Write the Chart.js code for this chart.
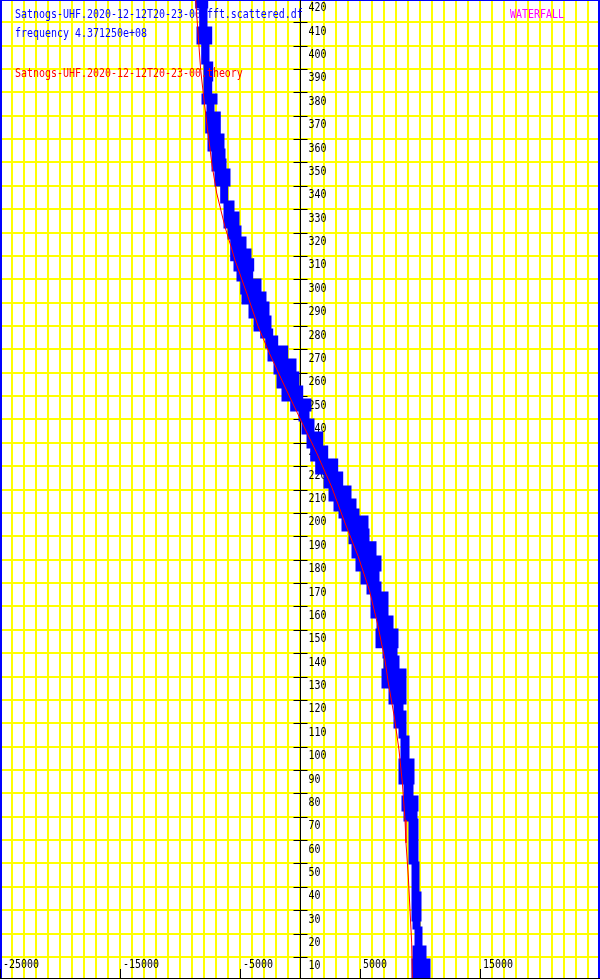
<!DOCTYPE html>
<html>
<head>
<meta charset="utf-8">
<script src="https://cdn.jsdelivr.net/npm/chart.js@4.4.1/dist/chart.umd.min.js"></script>
<style>
  html, body { margin: 0; padding: 0; background: #fff; }
  canvas { display: block; }
</style>
</head>
<body>
<canvas id="waterfall" width="600" height="980"></canvas>
<script>
// подписи
const seriesLabel = "Satnogs-UHF.2020-12-12T20-23-00.fft.scattered.df";
const freqLabel = "frequency 4.371250e+08";
const theoryLabel = "Satnogs-UHF.2020-12-12T20-23-00.theory";
const modeLabel = "WATERFALL";

// деления осей
const xTickLabels = [-25000, -15000, -5000, 5000, 15000];
const yTickLabels = [10, 20, 30, 40, 50, 60, 70, 80, 90, 100, 110, 120, 130, 140, 150, 160, 170, 180, 190, 200,
  210, 220, 230, 240, 250, 260, 270, 280, 290, 300, 310, 320, 330, 340, 350, 360, 370, 380, 390, 400, 410, 420];

// полоса измерений (fft.scattered): границы по времени и левый/правый край по частоте
const bandY = [419.5, 416.5, 407.5, 401.1, 392.5, 385.3, 378.9, 375.4, 371.1, 363.0, 361.7, 355.3, 351.0, 346.8,
  340.3, 333.1, 328.4, 322.4, 317.7, 312.5, 308.3, 304.0, 299.7, 294.1, 289.8, 283.9, 278.3, 275.3, 271.0, 265.5,
  259.9, 253.9, 248.3, 244.1, 239.8, 234.2, 228.2, 222.7, 217.1, 211.1, 205.5, 201.3, 198.3, 192.7, 187.2, 181.2,
  175.6, 170.0, 165.8, 155.5, 149.9, 142.7, 138.4, 132.8, 125.5, 118.7, 114.8, 108.4, 104.1, 94.3, 84.4, 78.5,
  72.9, 68.6, 50.2, 37.4, 25.8, 22.4, 14.3, 8.7, 1.0];
const bandLeft = [-8608, -8275, -8500, -8108, -7917, -7917, -8083, -7667, -7775, -7500, -7583, -7250, -7250, -7000,
  -6525, -6250, -6250, -5917, -5692, -5692, -5417, -5167, -4858, -4750, -4167, -3750, -3192, -2775, -2583, -2083,
  -1833, -1417, -692, 0, 250, 667, 975, 1392, 2083, 2500, 2917, 3333, 3583, 4167, 4417, 4750,
  5167, 5667, 6000, 6500, 6417, 7000, 7083, 6917, 7500, 7917, 7917, 8333, 8500, 8333, 8750, 8583,
  8750, 9167, 9417, 9417, 9500, 9667, 9500, 9417, 9417];
const bandRight = [-7775, -7833, -7442, -7667, -7358, -7442, -7000, -7250, -6725, -6833, -6417, -6333, -6250, -5917,
  -6108, -5583, -5167, -5000, -4583, -4167, -3942, -4025, -3333, -2917, -2667, -2500, -2358, -1942, -1108, -417,
  -167, 142, 833, 667, 1083, 1808, 2225, 3058, 3475, 4167, 4583, 4833, 5583, 5667, 6250, 6667,
  6500, 6667, 7250, 7667, 8083, 8000, 8167, 8750, 8750, 8500, 8750, 8750, 9000, 9417, 9333, 9750,
  9667, 9750, 9833, 10000, 9917, 10083, 10417, 10750, 10750];

// теоретическая кривая (theory)
const theoryY = [419.5, 405.4, 389.5, 376.7, 362.6, 348.9, 336.9, 322.4, 315.4, 308.2, 294.1, 279.6, 268.4, 253.9,
  239.8, 225.7, 211.1, 195.7, 181.2, 167.0, 152.9, 137.1, 127.2, 112.7, 98.6, 84.5, 68.6, 58.8, 44.2, 30.1, 16.0, 1.0];
const theoryX = [-8692, -8500, -8275, -8000, -7667, -7333, -6944, -6250, -5833, -5417, -4444, -3472, -2556, -1250,
  58, 1389, 2639, 3750, 4861, 5778, 6444, 7083, 7361, 7861, 8250, 8528, 8750, 8833, 9028, 9167, 9306, 9361];

const BLUE = "#0000ff";
const RED = "#ff0000";
const FONT = "12px 'DejaVu Sans Mono'";

// сетка: вертикальные линии через 1000, горизонтальные по делениям
const xGrid = [];
for (let v = -25000; v <= 25000; v += 1000) xGrid.push(v);

const toPoints = (ys, xs) => ys.map((y, i) => ({ x: xs[i], y }));

// узкий моноширинный текст как у gnuplot
function monoText(ctx, s, x, y, color) {
  ctx.save();
  ctx.translate(x, y);
  ctx.scale(0.83, 1);
  ctx.font = FONT;
  ctx.fillStyle = color;
  ctx.textAlign = "left";
  ctx.textBaseline = "alphabetic";
  ctx.fillText(s, 0, 0);
  ctx.restore();
}

const framePlugin = {
  id: "frame",
  beforeDatasetsDraw(chart) {
    const { ctx, chartArea: a, scales: { x, y } } = chart;
    ctx.save();

    // рамка
    ctx.fillStyle = BLUE;
    ctx.fillRect(0, 0, 2, a.bottom);
    ctx.fillRect(598, 0, 2, a.bottom);
    ctx.fillRect(0, 0, 600, 1);

    // центральная ось
    const x0 = Math.round(x.getPixelForValue(0)) + 0.5;
    ctx.strokeStyle = "#000";
    ctx.lineWidth = 1;
    ctx.beginPath();
    ctx.moveTo(x0, a.top);
    ctx.lineTo(x0, a.bottom);
    yTickLabels.forEach(v => {
      const py = Math.round(y.getPixelForValue(v)) + 0.5;
      ctx.moveTo(x0 - 7, py);
      ctx.lineTo(x0 + 7, py);
    });
    // нижняя ось
    ctx.moveTo(a.left, a.bottom + 0.5);
    ctx.lineTo(a.right, a.bottom + 0.5);
    xTickLabels.forEach(v => {
      const px = Math.round(x.getPixelForValue(v)) + 0.5;
      ctx.moveTo(px, a.bottom - 9);
      ctx.lineTo(px, a.bottom);
    });
    ctx.stroke();

    yTickLabels.forEach(v => {
      monoText(ctx, String(v), x0 + 8, y.getPixelForValue(v) + 12.5, "#000");
    });
    xTickLabels.forEach(v => {
      monoText(ctx, String(v), x.getPixelForValue(v) + 3, a.bottom - 10, "#000");
    });

    // подпись серии
    monoText(ctx, seriesLabel, 15, 18, BLUE);
    monoText(ctx, freqLabel, 15, 36.5, BLUE);
    ctx.restore();
  },
  afterDatasetsDraw(chart) {
    const { ctx } = chart;
    monoText(ctx, theoryLabel, 15, 76.5, RED);
    monoText(ctx, modeLabel, 510, 17.5, "#ff00ff");
  }
};

const ctx = document.getElementById("waterfall").getContext("2d");
new Chart(ctx, {
  type: "line",
  data: {
    datasets: [
      {
        label: "left",
        data: toPoints(bandY, bandLeft),
        stepped: "after",
        borderColor: BLUE,
        borderWidth: 3,
        pointRadius: 0,
        fill: false,
        order: 2
      },
      {
        label: seriesLabel,
        data: toPoints(bandY, bandRight),
        stepped: "after",
        borderColor: BLUE,
        borderWidth: 3,
        backgroundColor: BLUE,
        pointRadius: 0,
        fill: "-1",
        order: 1
      },
      {
        label: theoryLabel,
        data: toPoints(theoryY, theoryX),
        borderColor: RED,
        borderWidth: 1,
        pointRadius: 0,
        tension: 0,
        fill: false,
        order: 0
      }
    ]
  },
  options: {
    indexAxis: "y",
    responsive: false,
    animation: false,
    devicePixelRatio: 1,
    layout: { padding: { left: 0, right: 0, top: 0, bottom: 2 } },
    plugins: {
      legend: { display: false },
      tooltip: { enabled: false }
    },
    scales: {
      x: {
        type: "linear",
        min: -25000,
        max: 25000,
        ticks: { display: false },
        border: { display: false },
        grid: { color: "#ffff00", lineWidth: 2, drawTicks: false },
        afterBuildTicks: s => { s.ticks = xGrid.map(v => ({ value: v })); }
      },
      y: {
        type: "linear",
        min: 1,
        max: 419.5,
        ticks: { display: false },
        border: { display: false },
        grid: { color: "#ffff00", lineWidth: 2, drawTicks: false },
        afterBuildTicks: s => { s.ticks = yTickLabels.map(v => ({ value: v })); }
      }
    }
  },
  plugins: [framePlugin]
});
</script>
</body>
</html>
